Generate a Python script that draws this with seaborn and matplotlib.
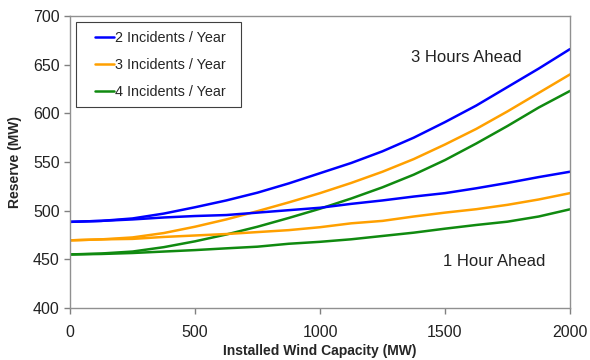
import numpy as np
import pandas as pd
import matplotlib
matplotlib.use("Agg")
import matplotlib.pyplot as plt
from matplotlib.patches import Rectangle
import seaborn as sns

capacity = [0, 125, 250, 375, 500, 625, 750, 875, 1000, 1125, 1250, 1375, 1500, 1625, 1750, 1875, 2000]
series_names = ["2 Incidents / Year", "3 Incidents / Year", "4 Incidents / Year"]

# 3 hours ahead
blue_3h = [488.5, 489.5, 492, 497, 503.5, 510.5, 518.5, 528, 538.5, 549, 561, 575, 591, 608, 627, 646, 666]
orange_3h = [469.5, 470.5, 472.5, 477, 483.5, 491, 499.5, 508.5, 518, 528.5, 540, 553, 568, 584, 602, 621, 640]
green_3h = [455, 456, 458, 462.5, 468.5, 475.5, 483.5, 492.5, 502, 512.5, 524, 537, 552, 569, 587, 606, 623]
# 1 hour ahead
blue_1h = [488.5, 489.5, 491, 493, 494.5, 495.5, 498, 500.5, 503, 507, 510.5, 514.5, 518, 523, 528.5, 534.5, 540]
orange_1h = [469.5, 470.5, 471, 473, 474.5, 476, 478, 480, 483, 487, 489.5, 494, 498, 501.5, 506, 511.5, 518]
green_1h = [455, 455.5, 456.5, 458, 459.5, 461.3, 463, 466, 468, 470.6, 474, 477.4, 481.5, 485.3, 488.7, 494, 501.4]

colors = ["#0000FF", "#FFA000", "#108A10"]

rows = []
for name, v3, v1 in zip(series_names, [blue_3h, orange_3h, green_3h], [blue_1h, orange_1h, green_1h]):
    for x, a, b in zip(capacity, v3, v1):
        rows.append({"cap": x, "res": a, "series": name, "h": "3h"})
        rows.append({"cap": x, "res": b, "series": name, "h": "1h"})
df = pd.DataFrame(rows)

sns.set_style("white")
plt.rcParams["font.family"] = ["Liberation Sans", "DejaVu Sans"]

fig = plt.figure(figsize=(5.9, 3.6), dpi=100)
ax = fig.add_axes([70/590, 1-308/360, 500/590, 292/360])

pal = dict(zip(series_names, colors))
sns.lineplot(data=df[df.h == "3h"], x="cap", y="res", hue="series", palette=pal,
             linewidth=1.8, ax=ax, legend=True)
sns.lineplot(data=df[df.h == "1h"], x="cap", y="res", hue="series", palette=pal,
             linewidth=1.8, ax=ax, legend=False)

ax.set_xlim(0, 2000)
ax.set_ylim(400, 700)
ax.set_xticks([0, 500, 1000, 1500, 2000])
ax.set_yticks([400, 450, 500, 550, 600, 650, 700])
ax.tick_params(axis="both", labelsize=11.5, colors="#808080", labelcolor="#222222",
               direction="out", length=4, width=1, bottom=True, left=True)
ax.tick_params(axis="x", pad=8)
for s in ax.spines.values():
    s.set_color("#909090")
    s.set_linewidth(1)
ax.set_xlabel("Installed Wind Capacity (MW)", fontsize=10, fontweight="bold", labelpad=3)
ax.set_ylabel("Reserve (MW)", fontsize=10, fontweight="bold", labelpad=8)

# legend box (frame drawn separately for exact padding)
ax.add_patch(Rectangle((0.012, 0.688), 0.33, 0.2915, transform=ax.transAxes,
                       facecolor="white", edgecolor="#404040", linewidth=0.8, zorder=4))
leg = ax.legend(loc="upper left", bbox_to_anchor=(0.05, 0.949), borderaxespad=0,
                frameon=False, fontsize=10.4, handlelength=1.3, handletextpad=0.1,
                labelspacing=0.92, borderpad=0, title=None)
leg.set_zorder(5)

ax.text(1586, 657, "3 Hours Ahead", ha="center", va="center", fontsize=12, color="#222222")
ax.text(1698, 448, "1 Hour Ahead", ha="center", va="center", fontsize=12, color="#222222")

fig.savefig("out.png", dpi=100)
